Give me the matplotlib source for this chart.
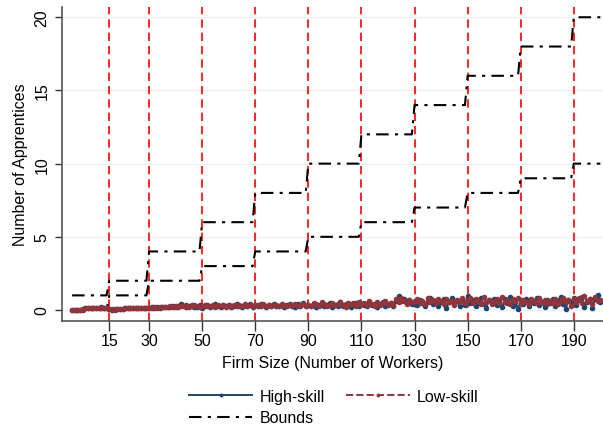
import numpy as np
import matplotlib
matplotlib.use('Agg')
import matplotlib.pyplot as plt

plt.rcParams['font.family'] = ['Liberation Sans', 'DejaVu Sans']

# firm size (number of workers)
firm_size = list(range(1, 201))

# average apprentices
high_skill = [
    0.02, 0.02, 0.03, 0.02, 0.04, 0.15, 0.16, 0.14, 0.17, 0.15,
    0.16, 0.18, 0.15, 0.17, 0.05, 0.03, 0.06, 0.04, 0.07, 0.08,
    0.12, 0.14, 0.11, 0.15, 0.13, 0.16, 0.12, 0.15, 0.17, 0.13,
    0.18, 0.15, 0.20, 0.17, 0.22, 0.19, 0.24, 0.20, 0.26, 0.22,
    0.25, 0.38, 0.30, 0.22, 0.28, 0.35, 0.24, 0.20, 0.31, 0.15,
    0.27, 0.34, 0.21, 0.29, 0.40, 0.26, 0.19, 0.33, 0.28, 0.36,
    0.24, 0.30, 0.42, 0.27, 0.20, 0.35, 0.29, 0.38, 0.22, 0.31,
    0.26, 0.40, 0.33, 0.21, 0.36, 0.28, 0.44, 0.25, 0.30, 0.37,
    0.23, 0.34, 0.41, 0.27, 0.19, 0.38, 0.30, 0.45, 0.26, 0.33,
    0.29, 0.40, 0.22, 0.35, 0.43, 0.27, 0.32, 0.48, 0.24, 0.36,
    0.30, 0.52, 0.25, 0.38, 0.44, 0.20, 0.34, 0.47, 0.29, 0.41,
    0.35, 0.26, 0.50, 0.31, 0.42, 0.22, 0.39, 0.55, 0.30, 0.37,
    0.45, 0.28, 0.60, 0.98, 0.62, 0.75, 0.50, 0.68, 0.40, 0.56,
    0.33, 0.70, 0.45, 0.25, 0.58, 0.80, 0.38, 0.64, 0.30, 0.52,
    0.72, 0.15, 0.55, 0.85, 0.42, 0.62, 0.28, 0.74, 0.36, 0.95,
    0.50, 0.68, 0.30, 0.58, 0.80, 0.40, 0.12, 0.66, 0.48, 0.76,
    0.35, 0.60, 0.22, 0.72, 0.45, 0.88, 0.30, 0.56, 0.05, 0.70,
    0.42, 0.78, 0.25, 0.62, 0.50, 0.85, 0.33, 0.58, 0.18, 0.68,
    0.46, 0.75, 0.28, 0.62, 0.90, 0.40, 0.10, 0.70, 0.52, 0.82,
    0.35, 0.66, 0.92, 0.20, 0.58, 0.78, 0.15, 0.74, 1.00, 0.55,
]
low_skill = [
    0.00, 0.01, 0.00, 0.02, 0.01, 0.14, 0.15, 0.16, 0.14, 0.16,
    0.15, 0.17, 0.16, 0.15, 0.04, 0.05, 0.03, 0.06, 0.05, 0.09,
    0.13, 0.12, 0.15, 0.13, 0.14, 0.12, 0.16, 0.14, 0.13, 0.15,
    0.17, 0.20, 0.16, 0.21, 0.18, 0.23, 0.20, 0.25, 0.22, 0.27,
    0.23, 0.30, 0.26, 0.33, 0.24, 0.30, 0.36, 0.25, 0.22, 0.28,
    0.33, 0.25, 0.30, 0.36, 0.24, 0.31, 0.27, 0.35, 0.23, 0.32,
    0.29, 0.37, 0.25, 0.33, 0.28, 0.39, 0.26, 0.34, 0.30, 0.36,
    0.31, 0.27, 0.38, 0.30, 0.34, 0.25, 0.37, 0.32, 0.28, 0.40,
    0.35, 0.29, 0.36, 0.31, 0.42, 0.27, 0.33, 0.38, 0.30, 0.35,
    0.26, 0.45, 0.38, 0.30, 0.52, 0.40, 0.28, 0.36, 0.48, 0.33,
    0.42, 0.56, 0.34, 0.22, 0.45, 0.38, 0.50, 0.30, 0.58, 0.40,
    0.47, 0.33, 0.60, 0.42, 0.28, 0.52, 0.36, 0.45, 0.62, 0.40,
    0.50, 0.35, 0.78, 0.55, 0.85, 0.60, 0.42, 0.70, 0.52, 0.65,
    0.75, 0.48, 0.62, 0.38, 0.80, 0.55, 0.68, 0.45, 0.72, 0.60,
    0.40, 0.78, 0.55, 0.62, 0.35, 0.70, 0.58, 0.85, 0.45, 0.66,
    0.80, 0.50, 0.72, 0.62, 0.42, 0.88, 0.55, 0.70, 0.38, 0.62,
    0.75, 0.48, 0.90, 0.55, 0.68, 0.40, 0.78, 0.60, 0.85, 0.50,
    0.68, 0.55, 0.38, 0.72, 0.60, 0.45, 0.80, 0.52, 0.70, 0.42,
    0.65, 0.50, 0.78, 0.40, 0.62, 0.85, 0.55, 0.68, 0.30, 0.72,
    0.58, 0.80, 0.45, 0.95, 0.62, 0.75, 0.40, 0.88, 0.60, 0.70,
]

# size thresholds and bound levels (segment starts)
thresholds = [15, 30, 50, 70, 90, 110, 130, 150, 170, 190]
segment_starts = [1, 15, 30, 50, 70, 90, 110, 130, 150, 170, 190, 201]
upper_levels = [1, 2, 4, 6, 8, 10, 12, 14, 16, 18, 20]
lower_levels = [0, 1, 2, 3, 4, 5, 6, 7, 8, 9, 10]

seg_len = np.diff(segment_starts)
upper_bound = np.repeat(upper_levels, seg_len)
lower_bound = np.repeat(lower_levels, seg_len)

navy = '#1a476f'
maroon = '#90353b'
fs = 11.5

fig = plt.figure(figsize=(6.03, 4.27), dpi=100)
ax = fig.add_axes([62 / 603, 105 / 427, 541 / 603, 314 / 427])

# horizontal grid
for yv in [0, 5, 10, 15, 20]:
    ax.axhline(yv, color='#eaf2f3', lw=1.0, zorder=0)

for t in thresholds:
    ax.axvline(t, color='red', lw=1.2, dashes=(5, 3), zorder=1)

dashdot = (6, 3, 1.5, 3)
ax.plot(firm_size, upper_bound, color='black', lw=1.5, dashes=dashdot, zorder=2,
        label='Bounds')
ax.plot(firm_size, lower_bound, color='black', lw=1.5, dashes=dashdot, zorder=2)

ax.plot(firm_size, high_skill, color=navy, lw=1.4, marker='o', ms=3,
        mec=navy, mfc=navy, zorder=3, label='High-skill')
ax.plot(firm_size, low_skill, color=maroon, lw=1.4, ls='--', marker='o', ms=3,
        mec=maroon, mfc=maroon, zorder=4, label='Low-skill')

ax.set_xlim(-2.8, 201.0)
ax.set_ylim(-0.75, 20.7)
ax.set_xticks(thresholds)
ax.set_yticks([0, 5, 10, 15, 20])
ax.tick_params(axis='x', length=7, width=1, color='#333333', labelsize=fs, pad=2)
ax.tick_params(axis='y', length=5, width=1, color='#333333', labelsize=fs, pad=4)
for lab in ax.get_yticklabels():
    lab.set_rotation(90)
    lab.set_va('center')

for side in ['top', 'right']:
    ax.spines[side].set_visible(False)
for side in ['left', 'bottom']:
    ax.spines[side].set_color('#555555')
    ax.spines[side].set_linewidth(1.2)

ax.set_xlabel('Firm Size (Number of Workers)', fontsize=fs, labelpad=5)
ax.set_ylabel('Number of Apprentices', fontsize=fs, labelpad=5)

# legend: column-major fill, so High-skill / Bounds in col 1, Low-skill in col 2
handles, labels = ax.get_legend_handles_labels()
order = [labels.index('High-skill'), labels.index('Bounds'), labels.index('Low-skill')]
leg = fig.legend([handles[i] for i in order], [labels[i] for i in order],
                 loc='upper center', bbox_to_anchor=(0.553, 0.094), ncol=2,
                 frameon=False, fontsize=fs, handlelength=4.0, handletextpad=0.45,
                 columnspacing=1.3, labelspacing=0.4, numpoints=1, markerscale=0.6,
                 borderaxespad=0, borderpad=0.2)

fig.savefig('out.png', dpi=100)
